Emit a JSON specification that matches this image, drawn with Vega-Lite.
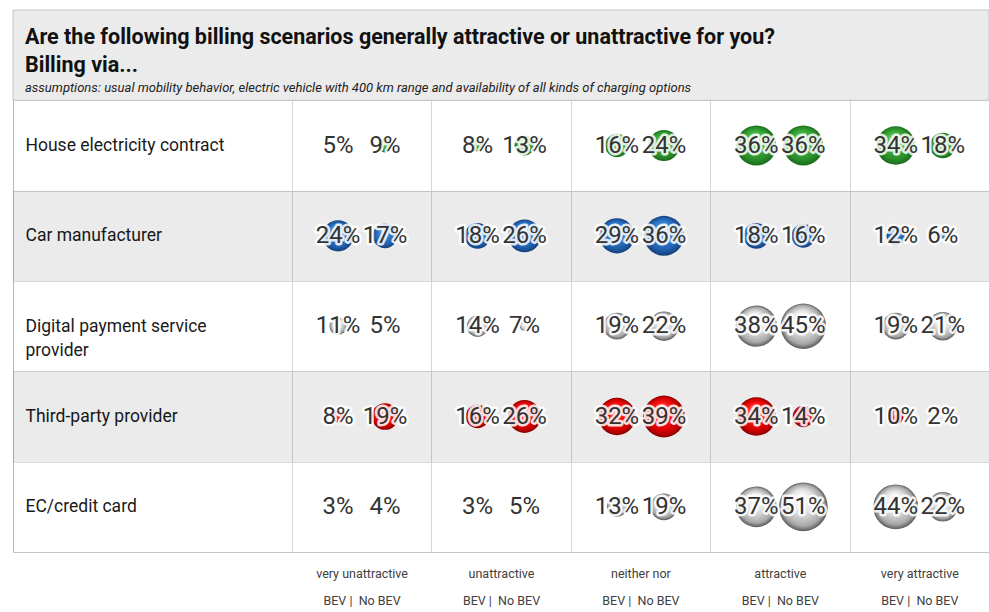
{
  "$schema": "https://vega.github.io/schema/vega-lite/v6.json",
  "width": 976,
  "height": 542,
  "padding": {"left": 13, "top": 10, "right": 0, "bottom": 60},
  "autosize": {"type": "none"},
  "background": "white",
  "config": {
    "view": {"stroke": null},
    "font": "Roboto"
  },
  "title": {
    "text": ["Are the following billing scenarios generally attractive or unattractive for you?", "Billing via..."],
    "subtitle": "assumptions: usual mobility behavior, electric vehicle with 400 km range and availability of all kinds of charging options",
    "anchor": "start",
    "frame": "group",
    "orient": "top",
    "offset": -94,
    "dx": 12,
    "font": "Roboto",
    "fontSize": 21.5,
    "fontWeight": "bold",
    "color": "#111111",
    "lineHeight": 28,
    "subtitleFont": "Roboto",
    "subtitleFontSize": 13,
    "subtitleFontStyle": "italic",
    "subtitleColor": "#222222",
    "subtitlePadding": 6
  },
  "datasets": {
    "rows": [
      {"row": "title"},
      {"row": "House electricity contract"},
      {"row": "Car manufacturer"},
      {"row": "Digital payment service provider"},
      {"row": "Third-party provider"},
      {"row": "EC/credit card"}
    ],
    "cells": [
      {"row": "House electricity contract", "rating": "very unattractive", "group": "BEV", "share": 0.05},
      {"row": "House electricity contract", "rating": "very unattractive", "group": "No BEV", "share": 0.09},
      {"row": "House electricity contract", "rating": "unattractive", "group": "BEV", "share": 0.08},
      {"row": "House electricity contract", "rating": "unattractive", "group": "No BEV", "share": 0.13},
      {"row": "House electricity contract", "rating": "neither nor", "group": "BEV", "share": 0.16},
      {"row": "House electricity contract", "rating": "neither nor", "group": "No BEV", "share": 0.24},
      {"row": "House electricity contract", "rating": "attractive", "group": "BEV", "share": 0.36},
      {"row": "House electricity contract", "rating": "attractive", "group": "No BEV", "share": 0.36},
      {"row": "House electricity contract", "rating": "very attractive", "group": "BEV", "share": 0.34},
      {"row": "House electricity contract", "rating": "very attractive", "group": "No BEV", "share": 0.18},
      {"row": "Car manufacturer", "rating": "very unattractive", "group": "BEV", "share": 0.24},
      {"row": "Car manufacturer", "rating": "very unattractive", "group": "No BEV", "share": 0.17},
      {"row": "Car manufacturer", "rating": "unattractive", "group": "BEV", "share": 0.18},
      {"row": "Car manufacturer", "rating": "unattractive", "group": "No BEV", "share": 0.26},
      {"row": "Car manufacturer", "rating": "neither nor", "group": "BEV", "share": 0.29},
      {"row": "Car manufacturer", "rating": "neither nor", "group": "No BEV", "share": 0.36},
      {"row": "Car manufacturer", "rating": "attractive", "group": "BEV", "share": 0.18},
      {"row": "Car manufacturer", "rating": "attractive", "group": "No BEV", "share": 0.16},
      {"row": "Car manufacturer", "rating": "very attractive", "group": "BEV", "share": 0.12},
      {"row": "Car manufacturer", "rating": "very attractive", "group": "No BEV", "share": 0.06},
      {"row": "Digital payment service provider", "rating": "very unattractive", "group": "BEV", "share": 0.11},
      {"row": "Digital payment service provider", "rating": "very unattractive", "group": "No BEV", "share": 0.05},
      {"row": "Digital payment service provider", "rating": "unattractive", "group": "BEV", "share": 0.14},
      {"row": "Digital payment service provider", "rating": "unattractive", "group": "No BEV", "share": 0.07},
      {"row": "Digital payment service provider", "rating": "neither nor", "group": "BEV", "share": 0.19},
      {"row": "Digital payment service provider", "rating": "neither nor", "group": "No BEV", "share": 0.22},
      {"row": "Digital payment service provider", "rating": "attractive", "group": "BEV", "share": 0.38},
      {"row": "Digital payment service provider", "rating": "attractive", "group": "No BEV", "share": 0.45},
      {"row": "Digital payment service provider", "rating": "very attractive", "group": "BEV", "share": 0.19},
      {"row": "Digital payment service provider", "rating": "very attractive", "group": "No BEV", "share": 0.21},
      {"row": "Third-party provider", "rating": "very unattractive", "group": "BEV", "share": 0.08},
      {"row": "Third-party provider", "rating": "very unattractive", "group": "No BEV", "share": 0.19},
      {"row": "Third-party provider", "rating": "unattractive", "group": "BEV", "share": 0.16},
      {"row": "Third-party provider", "rating": "unattractive", "group": "No BEV", "share": 0.26},
      {"row": "Third-party provider", "rating": "neither nor", "group": "BEV", "share": 0.32},
      {"row": "Third-party provider", "rating": "neither nor", "group": "No BEV", "share": 0.39},
      {"row": "Third-party provider", "rating": "attractive", "group": "BEV", "share": 0.34},
      {"row": "Third-party provider", "rating": "attractive", "group": "No BEV", "share": 0.14},
      {"row": "Third-party provider", "rating": "very attractive", "group": "BEV", "share": 0.10},
      {"row": "Third-party provider", "rating": "very attractive", "group": "No BEV", "share": 0.02},
      {"row": "EC/credit card", "rating": "very unattractive", "group": "BEV", "share": 0.03},
      {"row": "EC/credit card", "rating": "very unattractive", "group": "No BEV", "share": 0.04},
      {"row": "EC/credit card", "rating": "unattractive", "group": "BEV", "share": 0.03},
      {"row": "EC/credit card", "rating": "unattractive", "group": "No BEV", "share": 0.05},
      {"row": "EC/credit card", "rating": "neither nor", "group": "BEV", "share": 0.13},
      {"row": "EC/credit card", "rating": "neither nor", "group": "No BEV", "share": 0.19},
      {"row": "EC/credit card", "rating": "attractive", "group": "BEV", "share": 0.37},
      {"row": "EC/credit card", "rating": "attractive", "group": "No BEV", "share": 0.51},
      {"row": "EC/credit card", "rating": "very attractive", "group": "BEV", "share": 0.44},
      {"row": "EC/credit card", "rating": "very attractive", "group": "No BEV", "share": 0.22}
    ]
  },
  "encoding": {
    "y": {
      "field": "row",
      "type": "nominal",
      "scale": {
        "domain": ["title", "House electricity contract", "Car manufacturer", "Digital payment service provider", "Third-party provider", "EC/credit card"],
        "paddingInner": 0,
        "paddingOuter": 0
      },
      "axis": {
        "title": null,
        "values": ["House electricity contract", "Car manufacturer", "Digital payment service provider", "Third-party provider", "EC/credit card"],
        "orient": "left",
        "domain": true,
        "domainColor": "#b8b8b8",
        "ticks": false,
        "tickSize": 0,
        "grid": true,
        "gridColor": "#d6d6d6",
        "tickBand": "extent",
        "labelAlign": "left",
        "labelBaseline": "middle",
        "labelPadding": -12,
        "labelFont": "Roboto",
        "labelFontSize": 17.5,
        "labelColor": "#1a1a1a",
        "labelLimit": 0,
        "labelLineHeight": 24,
        "labelExpr": "datum.label === 'Digital payment service provider' ? ['Digital payment service', 'provider'] : datum.label",
        "zindex": 0
      }
    }
  },
  "layer": [
    {
      "data": {"name": "rows"},
      "transform": [{"filter": "datum.row === 'title'"}],
      "mark": {"type": "rect", "fill": "#ebebeb", "stroke": "#c4c4c4", "strokeWidth": 1}
    },
    {
      "data": {"name": "rows"},
      "transform": [{"filter": {"field": "row", "oneOf": ["Car manufacturer", "Third-party provider"]}}],
      "mark": {"type": "rect", "fill": "#000000", "fillOpacity": 0.078}
    },
    {
      "data": {"name": "cells"},
      "encoding": {
        "x": {
          "field": "rating",
          "type": "nominal",
          "scale": {
            "domain": ["label1", "label2", "very unattractive", "unattractive", "neither nor", "attractive", "very attractive"],
            "paddingInner": 0,
            "paddingOuter": 0
          },
          "axis": {
            "title": null,
            "values": ["very unattractive", "unattractive", "neither nor", "attractive", "very attractive"],
            "orient": "bottom",
            "domain": true,
            "domainColor": "#c4c4c4",
            "ticks": false,
            "tickSize": 0,
            "grid": true,
            "gridColor": "#d6d6d6",
            "tickBand": "extent",
            "labelAngle": 0,
            "labelExpr": "datum.label ? [datum.label, 'BEV\u00a0|\u00a0\u00a0No BEV'] : ''",
            "labelFont": "Roboto",
            "labelFontSize": 12.5,
            "labelColor": "#404040",
            "labelPadding": 15,
            "labelLineHeight": 27,
            "zindex": 0
          }
        },
        "xOffset": {
          "field": "group",
          "type": "nominal",
          "scale": {"type": "band", "domain": ["BEV", "No BEV"], "padding": 0.966}
        },
        "size": {
          "field": "share",
          "type": "quantitative",
          "scale": {"type": "linear", "domain": [0.053, 0.51], "range": [0, 2376], "zero": false, "clamp": true},
          "legend": null
        }
      },
      "layer": [
        {
          "transform": [{"filter": "datum.row === 'House electricity contract'"}],
          "mark": {
            "type": "circle",
            "opacity": 1,
            "fill": {"gradient": "radial", "x1": 0.45, "y1": 0.28, "r1": 0, "x2": 0.5, "y2": 0.5, "r2": 0.5,
              "stops": [{"offset": 0, "color": "#d8f5d8"}, {"offset": 0.35, "color": "#45b845"}, {"offset": 0.8, "color": "#2a8f2a"}, {"offset": 1, "color": "#1b6b1b"}]}
          }
        },
        {
          "transform": [{"filter": "datum.row === 'Car manufacturer'"}],
          "mark": {
            "type": "circle",
            "opacity": 1,
            "fill": {"gradient": "radial", "x1": 0.45, "y1": 0.28, "r1": 0, "x2": 0.5, "y2": 0.5, "r2": 0.5,
              "stops": [{"offset": 0, "color": "#e0eefc"}, {"offset": 0.35, "color": "#3b87d6"}, {"offset": 0.8, "color": "#1f5fae"}, {"offset": 1, "color": "#153f7a"}]}
          }
        },
        {
          "transform": [{"filter": {"field": "row", "oneOf": ["Digital payment service provider", "EC/credit card"]}}],
          "mark": {
            "type": "circle",
            "opacity": 1,
            "fill": {"gradient": "radial", "x1": 0.45, "y1": 0.28, "r1": 0, "x2": 0.5, "y2": 0.5, "r2": 0.5,
              "stops": [{"offset": 0, "color": "#ffffff"}, {"offset": 0.45, "color": "#e6e6e6"}, {"offset": 0.85, "color": "#a8a8a8"}, {"offset": 1, "color": "#5a5a5a"}]}
          }
        },
        {
          "transform": [{"filter": "datum.row === 'Third-party provider'"}],
          "mark": {
            "type": "circle",
            "opacity": 1,
            "fill": {"gradient": "radial", "x1": 0.45, "y1": 0.28, "r1": 0, "x2": 0.5, "y2": 0.5, "r2": 0.5,
              "stops": [{"offset": 0, "color": "#ffd0d0"}, {"offset": 0.35, "color": "#ff1a1a"}, {"offset": 0.8, "color": "#d40000"}, {"offset": 1, "color": "#8a0000"}]}
          }
        },
        {
          "mark": {"type": "text", "font": "Roboto", "fontSize": 24, "baseline": "middle", "align": "center", "fill": "#ffffff", "stroke": "#ffffff", "strokeWidth": 5, "strokeJoin": "round", "opacity": 0.85},
          "encoding": {"text": {"field": "share", "type": "quantitative", "format": ".0%"}, "size": null}
        },
        {
          "mark": {"type": "text", "font": "Roboto", "fontSize": 24, "baseline": "middle", "align": "center", "fill": "#333333"},
          "encoding": {"text": {"field": "share", "type": "quantitative", "format": ".0%"}, "size": null}
        }
      ]
    }
  ]
}
